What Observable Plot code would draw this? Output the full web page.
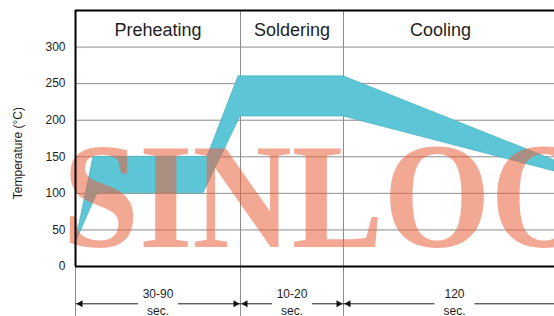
<!DOCTYPE html>
<html><head><meta charset="utf-8">
<script src="https://cdn.jsdelivr.net/npm/d3@7"></script>
<script src="https://cdn.jsdelivr.net/npm/@observablehq/plot@0.6"></script>
<style>html,body{margin:0;padding:0;background:#fff}</style>
</head><body><div id="chart"></div>
<script>
// ---- data ----
const yTicks = [0, 50, 100, 150, 200, 250, 300];
const phaseNames = ["Preheating", "Soldering", "Cooling"];
const phaseBounds = [0, 165, 268, 462];
const durationLabels = ["30-90", "10-20", "120"];
const durationUnit = "sec.";
const upperX = [0, 18, 132, 163, 268, 479];
const upperT = [32, 150, 150, 260, 260, 145];
const lowerX = [0, 22, 128, 165, 268, 479];
const lowerT = [32, 100, 100, 205, 205, 130];
const yLabel = "Temperature (°C)";
const watermark = "SINLOO";

// ---- derived tables ----
const band = upperX.map((x, i) => ({xu: x, tu: upperT[i], xl: lowerX[i], tl: lowerT[i]}));
const phases = phaseNames.map((name, i) => ({
  name, x1: phaseBounds[i], x2: phaseBounds[i + 1],
  mid: (phaseBounds[i] + phaseBounds[i + 1]) / 2, dur: durationLabels[i]
}));
const durMid = (d, i) => d.mid + (i === 2 ? 14 : 0);
const segs = phases.flatMap((d, i) => [
  {a: d.x1, b: durMid(d, i) - 20},
  {a: durMid(d, i) + 20, b: i === 2 ? 479 : d.x2}
]);
const headsLeft = phaseBounds.slice(0, 3);
const headsRight = phaseBounds.slice(1, 3);

const GRID = "#8c8c8c", INK = "#1e1e1e";
const yArrow = -51, yDur = -38, ySec = -61, yBottom = -70;

const chart = Plot.plot({
  width: 554, height: 316,
  marginLeft: 75, marginRight: 0, marginTop: 10, marginBottom: 50,
  x: {domain: [0, 479], axis: null},
  y: {domain: [0, 350], axis: null},
  style: {fontFamily: "'Liberation Sans', Arial, sans-serif", background: "#fff", overflow: "visible"},
  marks: [
    Plot.ruleY(yTicks.filter(t => t > 0), {stroke: GRID, strokeWidth: 1}),
    Plot.ruleX(phaseBounds.slice(1, 3), {y1: yBottom, y2: 350, stroke: GRID, strokeWidth: 1}),
    Plot.ruleX([0], {y1: yBottom, y2: 0, stroke: GRID, strokeWidth: 1}),
    Plot.area(band, {x1: "xl", y1: "tl", x2: "xu", y2: "tu", fill: "#5cc6d6", stroke: "#3fa9ba", strokeWidth: 0.6}),
    Plot.text([watermark], {x: -13, y: 27, text: d => d, textAnchor: "start", lineAnchor: "bottom",
      fontFamily: "'Liberation Serif', serif", fontWeight: "bold", fontSize: 150,
      fill: "#e9603c", fillOpacity: 0.55, className: "wm"}),
    Plot.ruleY([0], {stroke: "#000", strokeWidth: 2}),
    Plot.ruleY([350], {stroke: "#000", strokeWidth: 2}),
    Plot.ruleX([0], {y1: 0, y2: 350, stroke: "#000", strokeWidth: 2}),
    Plot.text(phases, {x: "mid", y: 323, text: "name", fontSize: 18, fill: INK}),
    Plot.text(yTicks, {x: 0, y: d => d, text: d => String(d), dx: -10, textAnchor: "end", fontSize: 12, fill: INK}),
    Plot.text([yLabel], {x: 0, y: 155, text: d => d, rotate: -90, dx: -57, fontSize: 12, fill: INK}),
    Plot.link(segs, {x1: "a", x2: "b", y1: yArrow, y2: yArrow, stroke: "#222", strokeWidth: 1}),
    Plot.dot(headsLeft, {x: d => d, y: yArrow, symbol: "triangle", rotate: -90, r: 2.6, dx: 5, fill: "#111", stroke: "none"}),
    Plot.dot(headsRight, {x: d => d, y: yArrow, symbol: "triangle", rotate: 90, r: 2.6, dx: -5, fill: "#111", stroke: "none"}),
    Plot.text(phases, {x: durMid, y: yDur, text: "dur", fontSize: 12, fill: INK}),
    Plot.text(phases, {x: durMid, y: ySec, text: () => durationUnit, fontSize: 12, fill: INK})
  ]
});
const wm = chart.querySelector(".wm text");
if (wm) { wm.setAttribute("textLength", 535); wm.setAttribute("lengthAdjust", "spacingAndGlyphs"); }
document.getElementById("chart").appendChild(chart);
</script>
</body></html>
